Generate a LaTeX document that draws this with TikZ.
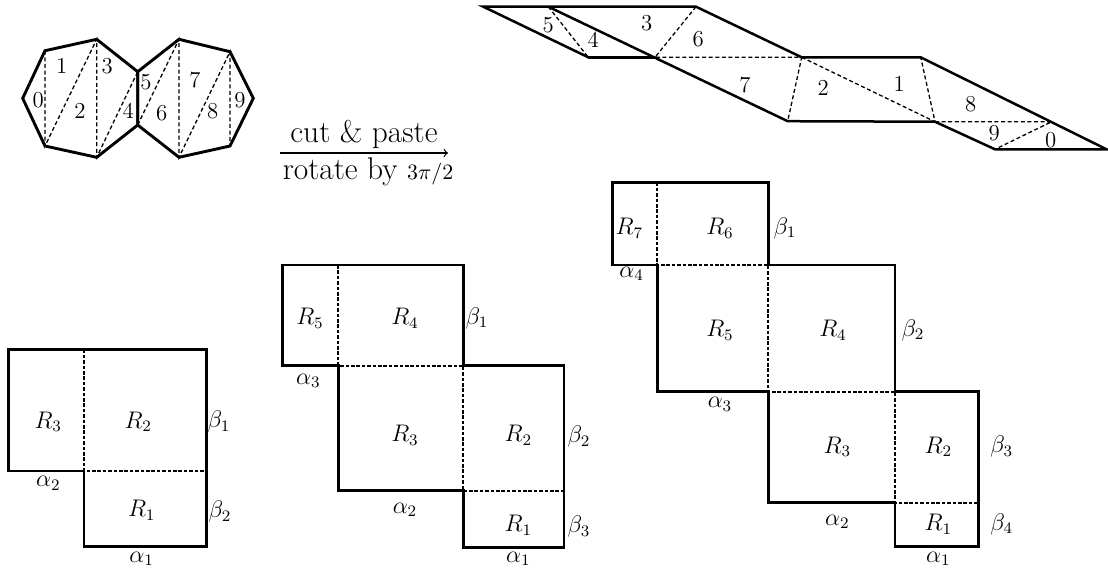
\documentclass[tikz,border=0pt]{standalone}
\begin{document}
\begin{tikzpicture}[x=0.5pt,y=-0.5pt,
  solid edge/.style={line width=1.45pt, line join=miter, line cap=round},
  strip edge/.style={line width=1.25pt, line join=miter, line cap=round},
  cutline/.style={line width=0.65pt, dash pattern=on 2pt off 1.3pt},
  seam/.style={line width=0.9pt, dash pattern=on 1.8pt off 0.9pt},
  num/.style={font=\fontsize{11.4}{13}\selectfont, inner sep=0pt},
  lab/.style={font=\fontsize{11.8}{14}\selectfont, inner sep=0pt},
  big/.style={font=\fontsize{15.7}{18}\selectfont, inner sep=0pt}]
\useasboundingbox (0,0) rectangle (1108,569);

% ---------- two heptagons ----------
\coordinate (L0) at (22.7,98.3);
\coordinate (L1) at (45,50.7);
\coordinate (L2) at (96.7,39.3);
\coordinate (L3) at (137.7,71.7);
\coordinate (L4) at (137.7,125);
\coordinate (L5) at (96.7,157.3);
\coordinate (L6) at (45,146);
\coordinate (R1) at (179,39.3);
\coordinate (R2) at (230,51.7);
\coordinate (R3) at (253.3,98.3);
\coordinate (R4) at (230,146);
\coordinate (R5) at (179,157.3);
\draw[cutline] (L1) -- (L6) -- (L2) -- (L5) -- (L3);
\draw[cutline] (L4) -- (R1) -- (R5) -- (R2) -- (R4);
\draw[solid edge] (L0) -- (L1) -- (L2) -- (L3) -- (L4) -- (L5) -- (L6) -- cycle;
\draw[solid edge] (L3) -- (R1) -- (R2) -- (R3) -- (R4) -- (R5) -- (L4) -- cycle;
\node[num] (h0) at (38.3,100) {0};
\node[num] (h1) at (61.7,66) {1};
\node[num] (h2) at (80,111) {2};
\node[num] (h3) at (107.3,66) {3};
\node[num] (h4) at (128.3,111) {4};
\node[num] (h5) at (146,81.7) {5};
\node[num] (h6) at (161.7,113.3) {6};
\node[num] (h7) at (195,80) {7};
\node[num] (h8) at (212.7,111) {8};
\node[num] (h9) at (240,100) {9};

% ---------- arrow ----------
\node[big] (cut) at (364,134) {cut \& paste};
\node[big] (rot) at (368,172) {rotate by $\scriptstyle 3\pi/2$};
\coordinate (as) at (280,153);
\coordinate (ae) at (448,153);
\draw[line width=0.6pt,->] (as) -- (ae);

% ---------- strip ----------
\coordinate (A) at (483.3,6.7);
\coordinate (B) at (548.3,6.7);
\coordinate (C) at (696,6.7);
\coordinate (D) at (588.3,57.3);
\coordinate (E) at (655,57.3);
\coordinate (F) at (801.7,57.3);
\coordinate (G) at (920.7,57.3);
\coordinate (H) at (787.7,121.2);
\coordinate (I) at (935,121.7);
\coordinate (J) at (1051.7,121.7);
\coordinate (K) at (995,149.3);
\coordinate (M) at (1106.5,149.3);
\draw[cutline] (B) -- (D);
\draw[cutline] (C) -- (E) -- (F) -- (H);
\draw[cutline] (F) -- (I) -- (G);
\draw[cutline] (I) -- (J) -- (K);
\draw[strip edge] (D) -- (A) -- (C) -- (F) -- (G) -- (M) -- (K) -- (I) -- (H) -- (B);
\draw[strip edge] (D) -- (E);
\node[num] (s5) at (548.3,25) {5};
\node[num] (s4) at (593.3,40) {4};
\node[num] (s3) at (646.7,23.3) {3};
\node[num] (s6) at (698.3,39.3) {6};
\node[num] (s7) at (745,85) {7};
\node[num] (s2) at (823.3,88.3) {2};
\node[num] (s1) at (899.3,84.3) {1};
\node[num] (s8) at (970.7,104) {8};
\node[num] (s9) at (994.3,133.3) {9};
\node[num] (s0) at (1050.7,140) {0};

% ---------- figure 1 ----------
\draw[seam] (84,349.3) -- (84,471) -- (206.7,471);
\draw[solid edge] (8.3,349.3) -- (206.7,349.3) -- (206.7,546.7) -- (84,546.7) -- (84,471) -- (8.3,471) -- cycle;
\node[lab] (a3) at (48.3,421.7) {$R_3$};
\node[lab] (a2) at (138.3,421.7) {$R_2$};
\node[lab] (a1) at (141.7,510) {$R_1$};
\node[lab] (ab1) at (219,421.7) {$\beta_1$};
\node[lab] (ab2) at (220,511.7) {$\beta_2$};
\node[lab] (aa2) at (48.3,483.3) {$\alpha_2$};
\node[lab] (aa1) at (141.7,558.8) {$\alpha_1$};

% ---------- figure 2 ----------
\draw[seam] (338.3,265) -- (338.3,365.7) -- (463.3,365.7) -- (463.3,490.7) -- (564,490.7);
\draw[solid edge] (282.7,265) -- (463.3,265) -- (463.3,365.7) -- (564,365.7) -- (564,547.3) -- (463.3,547.3) -- (463.3,490.7) -- (338.3,490.7) -- (338.3,365.7) -- (282.7,365.7) -- cycle;
\node[lab] (b5) at (310,318.3) {$R_5$};
\node[lab] (b4) at (405,318.3) {$R_4$};
\node[lab] (bb1) at (477,318.3) {$\beta_1$};
\node[lab] (ba3) at (308.3,381) {$\alpha_3$};
\node[lab] (b3) at (405,435) {$R_3$};
\node[lab] (b2) at (518.3,435) {$R_2$};
\node[lab] (bb2) at (579,436.7) {$\beta_2$};
\node[lab] (ba2) at (405,510) {$\alpha_2$};
\node[lab] (b1) at (518.3,525) {$R_1$};
\node[lab] (bb3) at (579,526.7) {$\beta_3$};
\node[lab] (ba1) at (518.3,558.8) {$\alpha_1$};

% ---------- figure 3 ----------
\draw[seam] (657.3,182.3) -- (657.3,265) -- (768.3,265) -- (768.3,391.7) -- (895,391.7) -- (895,502.7) -- (978.3,502.7);
\draw[solid edge] (612.7,182.3) -- (768.3,182.3) -- (768.3,265) -- (895,265) -- (895,391.7) -- (978.3,391.7) -- (978.3,546.7) -- (895,546.7) -- (895,502.7) -- (768.3,502.7) -- (768.3,391.7) -- (657.3,391.7) -- (657.3,265) -- (612.7,265) -- cycle;
\node[lab] (c7) at (629.3,228.3) {$R_7$};
\node[lab] (c6) at (720,228.3) {$R_6$};
\node[lab] (cb1) at (785,228.3) {$\beta_1$};
\node[lab] (ca4) at (631.7,273.8) {$\alpha_4$};
\node[lab] (c5) at (720,330) {$R_5$};
\node[lab] (c4) at (833,330) {$R_4$};
\node[lab] (cb2) at (913,330) {$\beta_2$};
\node[lab] (ca3) at (720,404.5) {$\alpha_3$};
\node[lab] (c3) at (837.3,446.7) {$R_3$};
\node[lab] (c2) at (938.3,446.7) {$R_2$};
\node[lab] (cb3) at (1001.7,446.7) {$\beta_3$};
\node[lab] (ca2) at (837.3,521.7) {$\alpha_2$};
\node[lab] (c1) at (938.3,524) {$R_1$};
\node[lab] (cb4) at (1001.7,524) {$\beta_4$};
\node[lab] (ca1) at (938.3,558.8) {$\alpha_1$};
\end{tikzpicture}
\end{document}
